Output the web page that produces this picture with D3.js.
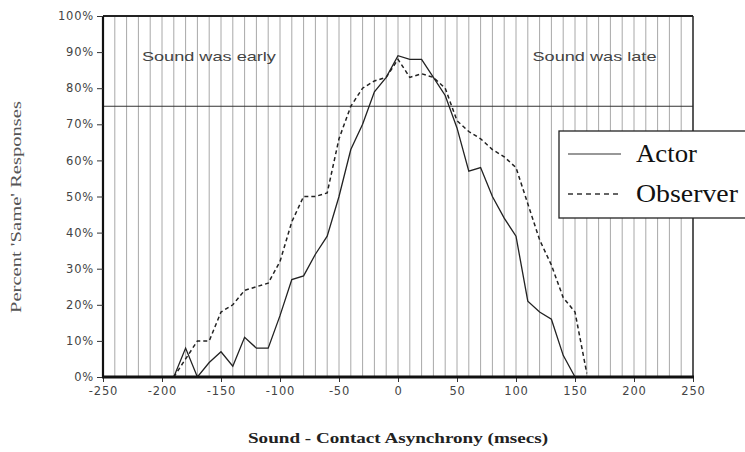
<!DOCTYPE html>
<html>
<head>
<meta charset="utf-8">
<script src="https://cdn.jsdelivr.net/npm/d3@7"></script>
<style>
  body { margin: 0; background: #fff; }
  svg { display: block; }
  .tick text { font-family: "DejaVu Sans", sans-serif; font-size: 11.5px; fill: #444; letter-spacing: 0.8px; }
</style>
</head>
<body>
<svg id="chart" width="745" height="452"></svg>
<script>
// asynchrony (msecs) for each measured point
const asynchrony = [-190, -180, -170, -160, -150, -140, -130, -120, -110, -100,
  -90, -80, -70, -60, -50, -40, -30, -20, -10, 0,
  10, 20, 30, 40, 50, 60, 70, 80, 90, 100,
  110, 120, 130, 140, 150, 160];

// percent "same" responses
const actor = [0, 8, 0, 4, 7, 3, 11, 8, 8, 17,
  27, 28, 34, 39, 50, 63, 70, 79, 83, 89,
  88, 88, 83, 78, 69, 57, 58, 50, 44, 39,
  21, 18, 16, 6, 0, null];

const observer = [0, 5, 10, 10, 18, 20, 24, 25, 26, 32,
  43, 50, 50, 51, 66, 75, 80, 82, 83, 88,
  83, 84, 83, 80, 71, 68, 66, 63, 61, 58,
  48, 38, 31, 22, 18, 1];

const xTicks = [-250, -200, -150, -100, -50, 0, 50, 100, 150, 200, 250];
const yTicks = [0, 10, 20, 30, 40, 50, 60, 70, 80, 90, 100];
const gridX = d3.range(-240, 250, 10);
const criterion = 75;

const svg = d3.select("#chart");

const marginLeft = 103, marginRight = 693, marginTop = 16, marginBottom = 377;

const x = d3.scaleLinear().domain([-250, 250]).range([marginLeft, marginRight]);
const y = d3.scaleLinear().domain([0, 100]).range([marginBottom, marginTop]);

// vertical grid
svg.append("g")
  .selectAll("line")
  .data(gridX)
  .join("line")
    .attr("x1", d => x(d)).attr("x2", d => x(d))
    .attr("y1", y(100)).attr("y2", y(0))
    .attr("stroke", "#a8a8a8")
    .attr("stroke-width", 1);

// 75% criterion line
svg.append("line")
  .attr("x1", x(-250)).attr("x2", x(250))
  .attr("y1", y(criterion)).attr("y2", y(criterion))
  .attr("stroke", "#333").attr("stroke-width", 1);

// annotations
svg.append("text")
  .attr("x", x(-217)).attr("y", 61)
  .attr("font-family", "Liberation Sans, sans-serif").attr("font-size", 13)
  .attr("fill", "#444")
  .attr("textLength", 134).attr("lengthAdjust", "spacingAndGlyphs")
  .text("Sound was early");

svg.append("text")
  .attr("x", x(114)).attr("y", 61)
  .attr("font-family", "Liberation Sans, sans-serif").attr("font-size", 13)
  .attr("fill", "#444")
  .attr("textLength", 124).attr("lengthAdjust", "spacingAndGlyphs")
  .text("Sound was late");

// series lines
const line = (vals) => d3.line()
  .defined((d, i) => vals[i] != null)
  .x((d, i) => x(asynchrony[i]))
  .y((d, i) => y(vals[i]));

svg.append("path")
  .datum(actor)
  .attr("d", line(actor))
  .attr("fill", "none")
  .attr("stroke", "#222")
  .attr("stroke-width", 1.3);

svg.append("path")
  .datum(observer)
  .attr("d", line(observer))
  .attr("fill", "none")
  .attr("stroke", "#222")
  .attr("stroke-width", 1.5)
  .attr("stroke-dasharray", "4,3");

// frame
svg.append("line")
  .attr("x1", x(-250)).attr("x2", x(250)).attr("y1", y(100)).attr("y2", y(100))
  .attr("stroke", "#222").attr("stroke-width", 2);
svg.append("line")
  .attr("x1", x(250)).attr("x2", x(250)).attr("y1", y(100)).attr("y2", y(0))
  .attr("stroke", "#222").attr("stroke-width", 1.5);
svg.append("line")
  .attr("x1", x(-250)).attr("x2", x(-250)).attr("y1", y(100)).attr("y2", y(0))
  .attr("stroke", "#111").attr("stroke-width", 2.2);

// axes
svg.append("g")
  .attr("transform", `translate(${marginLeft},0)`)
  .call(d3.axisLeft(y).tickValues(yTicks).tickFormat(d => d + "%").tickSize(6).tickPadding(3))
  .call(g => g.select(".domain").remove())
  .call(g => g.selectAll(".tick line").attr("stroke", "#333"));

svg.append("g")
  .attr("transform", `translate(0,${marginBottom})`)
  .call(d3.axisBottom(x).tickValues(xTicks).tickFormat(d => String(d)).tickSize(5).tickPadding(5))
  .call(g => g.select(".domain").remove())
  .call(g => g.selectAll(".tick line").attr("stroke", "#333"));

svg.append("line")
  .attr("x1", x(-250) - 1).attr("x2", x(250) + 1).attr("y1", y(0)).attr("y2", y(0))
  .attr("stroke", "#111").attr("stroke-width", 3);

// axis titles
svg.append("text")
  .attr("x", (marginLeft + marginRight) / 2).attr("y", 443)
  .attr("text-anchor", "middle")
  .attr("font-family", "Liberation Serif, serif").attr("font-size", 14).attr("font-weight", "bold")
  .attr("fill", "#222")
  .attr("textLength", 300).attr("lengthAdjust", "spacingAndGlyphs")
  .text("Sound - Contact Asynchrony (msecs)");

svg.append("text")
  .attr("transform", "translate(21,207) rotate(-90)")
  .attr("text-anchor", "middle")
  .attr("font-family", "Liberation Serif, serif").attr("font-size", 14)
  .attr("fill", "#555")
  .attr("textLength", 212).attr("lengthAdjust", "spacingAndGlyphs")
  .text("Percent 'Same' Responses");

// legend
const legend = svg.append("g");
legend.append("rect")
  .attr("x", 559).attr("y", 131).attr("width", 200).attr("height", 87)
  .attr("fill", "#fff").attr("stroke", "#222").attr("stroke-width", 1.3);

legend.append("line")
  .attr("x1", 568).attr("x2", 621).attr("y1", 154).attr("y2", 154)
  .attr("stroke", "#333").attr("stroke-width", 1.2);
legend.append("line")
  .attr("x1", 568).attr("x2", 619).attr("y1", 194).attr("y2", 194)
  .attr("stroke", "#333").attr("stroke-width", 1.6).attr("stroke-dasharray", "5,4");

legend.append("text")
  .attr("x", 636).attr("y", 162)
  .attr("font-family", "Liberation Serif, serif").attr("font-size", 25).attr("fill", "#111")
  .attr("textLength", 61).attr("lengthAdjust", "spacingAndGlyphs")
  .text("Actor");
legend.append("text")
  .attr("x", 636).attr("y", 202)
  .attr("font-family", "Liberation Serif, serif").attr("font-size", 25).attr("fill", "#111")
  .attr("textLength", 102).attr("lengthAdjust", "spacingAndGlyphs")
  .text("Observer");
</script>
</body>
</html>
